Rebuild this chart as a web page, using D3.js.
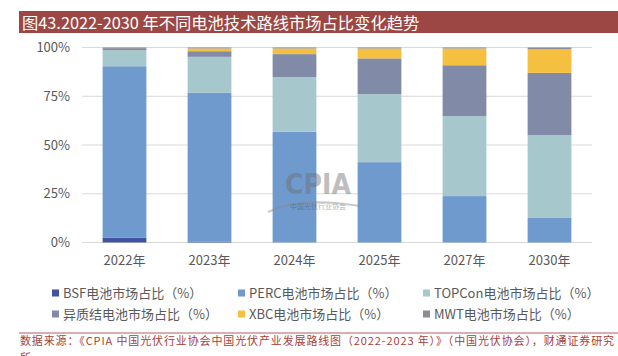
<!DOCTYPE html>
<html><head><meta charset="utf-8">
<script src="https://cdn.jsdelivr.net/npm/d3@7/dist/d3.min.js"></script>
<style>body{margin:0;background:#fff;}svg{display:block;}</style>
</head><body>
<svg id="c" width="618" height="356"></svg>
<script>
const categories = ["2022年","2023年","2024年","2025年","2027年","2030年"];
const seriesNames = ["BSF电池市场占比（%）","PERC电池市场占比（%）","TOPCon电池市场占比（%）","异质结电池市场占比（%）","XBC电池市场占比（%）","MWT电池市场占比（%）"];
const bsf   = [2.4, 0.5, 0, 0, 0, 0];
const perc  = [88.0, 76.4, 56.8, 41.2, 23.8, 12.6];
const topcon= [8.3, 18.3, 28.0, 34.9, 41.0, 42.4];
const hjt   = [0.6, 2.9, 11.8, 18.3, 26.1, 32.0];
const xbc   = [0, 1.4, 2.9, 5.1, 8.6, 12.1];
const mwt   = [0.7, 0.5, 0.5, 0.5, 0.5, 0.9];
const yTicks = [0, 25, 50, 75, 100];
const yTickLabels = ["0%","25%","50%","75%","100%"];
const title = "图43.2022-2030 年不同电池技术路线市场占比变化趋势";
const source1 = "数据来源：《CPIA 中国光伏行业协会中国光伏产业发展路线图（2022-2023 年）》（中国光伏协会），财通证券研究";
const source2 = "所";

const colors = ["#4152a0","#6e9ace","#a6c8cc","#818ba8","#f5c040","#8e8b96"];
const series = [bsf, perc, topcon, hjt, xbc, mwt];

const svg = d3.select("#c");
const font = "'Noto Sans CJK SC', 'Noto Sans', sans-serif";

// title bar
svg.append("rect").attr("x",19).attr("y",11).attr("width",599).attr("height",22).attr("fill","#9c4744");
svg.append("text").attr("x",22).attr("y",28.5).attr("fill","#fff")
  .attr("font-family",font).attr("font-size",16.3).text(title);

const x = d3.scaleBand().domain(categories).range([82, 592]).paddingInner(0.485).paddingOuter(0.2425);
const y = d3.scaleLinear().domain([0,100]).range([242.5, 47.5]);

// gridlines
svg.append("g").selectAll("line").data(yTicks).join("line")
  .attr("x1",82).attr("x2",592).attr("y1",d=>y(d)).attr("y2",d=>y(d))
  .attr("stroke","#d9d9d9").attr("stroke-width",1);

// y axis labels
const yAxis = d3.axisLeft(y).tickValues(yTicks).tickFormat((d,i)=>yTickLabels[i]).tickSize(0).tickPadding(0);
const gy = svg.append("g").attr("transform","translate(70,0)").call(yAxis);
gy.select(".domain").remove();
gy.selectAll("text").attr("font-family",font).attr("font-size",13).attr("fill","#595959");

// x axis labels
const xAxis = d3.axisBottom(x).tickSize(0).tickPadding(0);
const gx = svg.append("g").attr("transform","translate(0,256)").call(xAxis);
gx.select(".domain").remove();
gx.selectAll("text").attr("font-family",font).attr("font-size",13).attr("fill","#595959").attr("dy","0.71em");

// stacked bars
const rows = categories.map((c,i)=>{ const o={cat:c}; seriesNames.forEach((s,j)=>o[s]=series[j][i]); return o; });
const stack = d3.stack().keys(seriesNames)(rows);
svg.append("g").selectAll("g").data(stack).join("g").attr("fill",(d,i)=>colors[i])
  .selectAll("rect").data(d=>d).join("rect")
  .attr("x",d=>x(d.data.cat)).attr("width",x.bandwidth())
  .attr("y",d=>y(d[1])).attr("height",d=>Math.max(0,y(d[0])-y(d[1])));

// watermark (drawn over bars, translucent)
const wm = svg.append("g").attr("opacity",0.45);
wm.append("path").attr("d","M268,212 Q300,196 360,206").attr("fill","none").attr("stroke","#8a8a8a").attr("stroke-width",2);
wm.append("text").attr("x",318).attr("y",194).attr("text-anchor","middle").attr("font-family","'DejaVu Sans Condensed', 'DejaVu Sans', sans-serif")
  .attr("font-weight","bold").attr("font-size",28).attr("fill","#707070").text("CPIA");
wm.append("text").attr("x",318).attr("y",209).attr("text-anchor","middle").attr("font-family",font)
  .attr("font-size",7).attr("fill","#555").text("中国光伏行业协会");

// legend
const legX = [52, 238, 423];
const legY = [293, 314];
const leg = svg.append("g").selectAll("g").data(seriesNames).join("g")
  .attr("transform",(d,i)=>`translate(${legX[i%3]},${legY[Math.floor(i/3)]})`);
leg.append("rect").attr("x",0).attr("y",-3.5).attr("width",7).attr("height",7).attr("fill",(d,i)=>colors[i]);
leg.append("text").attr("x",11).attr("y",0).attr("dy","0.36em").attr("font-family",font).attr("font-size",13)
  .attr("fill","#595959").text(d=>d);

// source
svg.append("line").attr("x1",19).attr("x2",618).attr("y1",333).attr("y2",333).attr("stroke","#b4605d").attr("stroke-width",1);
svg.append("text").attr("x",20).attr("y",345).attr("font-family",font).attr("font-size",11).attr("fill","#a8403c")
  .attr("textLength",594).attr("lengthAdjust","spacing").text(source1);
svg.append("text").attr("x",20).attr("y",362).attr("font-family",font).attr("font-size",11).attr("fill","#a8403c").text(source2);
</script>
</body></html>
